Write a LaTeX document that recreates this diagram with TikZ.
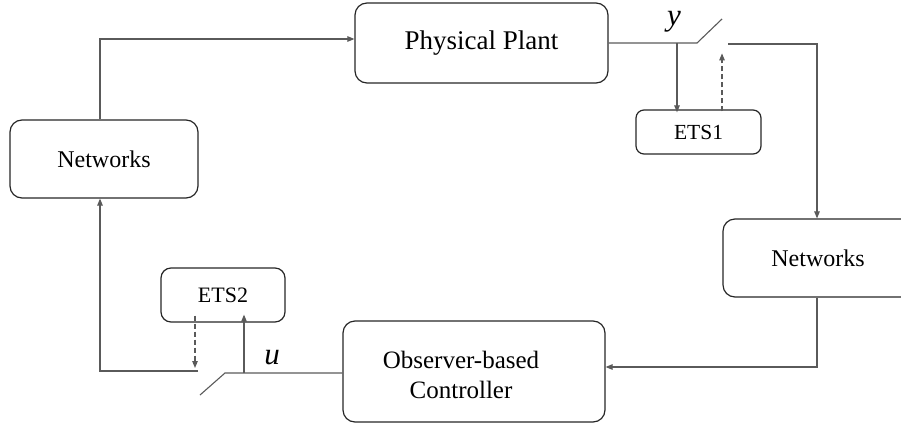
\documentclass[tikz,border=0pt]{standalone}
\usepackage{fontspec}
\setmainfont{Liberation Serif}
\newfontfamily\tnr{Liberation Serif}
\usetikzlibrary{arrows.meta,calc}
\definecolor{conn}{HTML}{5A5A5A}
\begin{document}
\begin{tikzpicture}[x=1pt,y=-1pt,
  blk/.style={draw=black!85,line width=1.2pt,rounded corners=12pt,inner sep=0pt,align=center},
  smallblk/.style={blk,rounded corners=8pt},
  conline/.style={draw=conn,line width=1.1pt},
  arr/.style={conline,-{Triangle[length=7pt,width=5.5pt]}},
  darr/.style={arr,dashed,dash pattern=on 5pt off 3pt},
  lbl/.style={font=\tnr\itshape\fontsize{31}{34}\selectfont,inner sep=0pt}]
\clip (0,0) rectangle (901,425);
\useasboundingbox (0,0) rectangle (901,425);
% blocks
\node[blk,minimum width=253pt,minimum height=80pt,font=\tnr\fontsize{27}{32}\selectfont] (PP) at (481.5,43) {Physical Plant};
\node[blk,minimum width=188pt,minimum height=78pt,font=\tnr\fontsize{24}{28}\selectfont] (LN) at (104,159) {Networks};
\node[blk,minimum width=190pt,minimum height=78pt,font=\tnr\fontsize{24}{28}\selectfont] (RN) at (818,258) {Networks};
\node[smallblk,minimum width=125pt,minimum height=44pt,font=\tnr\fontsize{21.5}{26}\selectfont] (E1) at (698.5,132) {ETS1};
\node[smallblk,minimum width=124pt,minimum height=54pt,rounded corners=10pt,font=\tnr\fontsize{22}{26}\selectfont] (E2) at (223,295) {ETS2};
\node[blk,minimum width=262pt,minimum height=101pt] (C) at (474,371.5) {};
\node[font=\tnr\fontsize{25}{30}\selectfont,align=center] (CT) at (461,375) {Observer-based\\Controller};
% switch points
\coordinate (s1a) at (697,43);
\coordinate (s1b) at (722,19);
\coordinate (s1c) at (728,44);
\coordinate (ty) at (677,43);
\coordinate (s2a) at (225,373);
\coordinate (s2b) at (200,395);
\coordinate (s2c) at (198,371);
\coordinate (tu) at (244,373);
% connectors
\draw[arr] ([xshift=-4pt]LN.north) |- ([yshift=4pt]PP.west);
\draw[conline] (PP.east |- s1a) -- (s1a) -- (s1b);
\draw[arr] (s1c) -| (RN.north -| 817,0);
\draw[arr] (ty) -- ([yshift=-3pt]ty |- E1.north);
\draw[darr] ([yshift=-2pt]E1.north -| s1b) -- ++(0,-58);
\draw[arr] (RN.south -| 817,0) |- ([yshift=4.5pt]C.east);
\draw[conline] (C.west |- s2a) -- (s2a) -- (s2b);
\draw[arr] (s2c) -| ([xshift=-4pt]LN.south);
\draw[arr] (tu) -- ([yshift=8pt]tu |- E2.south);
\draw[darr] ([yshift=7pt]E2.south -| 195,0) -- (195,368);
% labels
\node[lbl] (ly) at (674,22) {y};
\node[lbl] (lu) at (272,358) {u};
\end{tikzpicture}
\end{document}
